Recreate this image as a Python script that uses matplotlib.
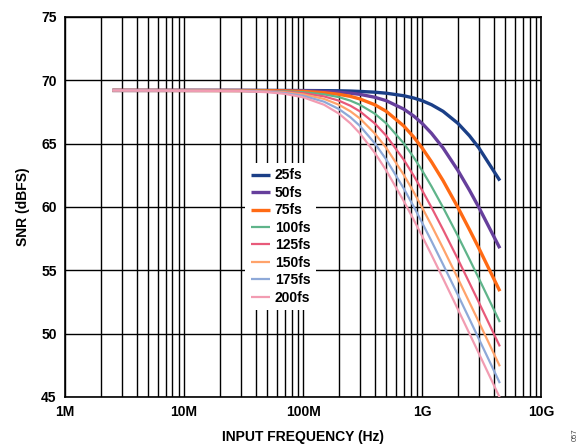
import numpy as np
import matplotlib
matplotlib.use("Agg")
import matplotlib.pyplot as plt
from matplotlib.ticker import LogLocator, FixedLocator, FixedFormatter, NullFormatter

plt.rcParams['font.family'] = ['Liberation Sans', 'DejaVu Sans']

# input frequency (Hz)
freq = [2.5e6, 30e6, 50e6, 70e6, 100e6, 150e6, 200e6, 250e6, 300e6, 400e6,
        500e6, 700e6, 850e6, 1e9, 1.2e9, 1.5e9, 2e9, 2.5e9, 3e9, 4.5e9]

snr_25fs = [69.2, 69.2, 69.2, 69.2, 69.19, 69.18, 69.17, 69.15, 69.12, 69.06,
            68.98, 68.78, 68.6, 68.39, 68.07, 67.55, 66.6, 65.62, 64.66, 62.08]
snr_50fs = [69.2, 69.2, 69.19, 69.18, 69.17, 69.12, 69.06, 68.98, 68.89, 68.66,
            68.39, 67.73, 67.18, 66.6, 65.81, 64.66, 62.88, 61.32, 59.96, 56.74]
snr_75fs = [69.2, 69.19, 69.18, 69.16, 69.12, 69.02, 68.89, 68.73, 68.53, 68.07,
            67.55, 66.4, 65.52, 64.66, 63.56, 62.08, 59.96, 58.21, 56.74, 53.35]
snr_100fs = [69.2, 69.19, 69.16, 69.13, 69.06, 68.89, 68.67, 68.39, 68.07, 67.37,
             66.6, 65.03, 63.92, 62.88, 61.62, 59.96, 57.7, 55.87, 54.35, 50.91]
snr_125fs = [69.2, 69.18, 69.14, 69.09, 68.98, 68.73, 68.39, 67.99, 67.55, 66.6,
             65.62, 63.74, 62.47, 61.32, 59.96, 58.21, 55.87, 54.0, 52.46, 48.99]
snr_150fs = [69.2, 69.17, 69.12, 69.05, 68.89, 68.53, 68.07, 67.55, 66.99, 65.81,
             64.66, 62.55, 61.18, 59.96, 58.54, 56.74, 54.35, 52.46, 50.91, 47.42]
snr_175fs = [69.2, 69.16, 69.09, 68.99, 68.78, 68.31, 67.73, 67.08, 66.4, 65.03,
             63.74, 61.47, 60.03, 58.76, 57.3, 55.46, 53.05, 51.15, 49.58, 46.09]
snr_200fs = [69.2, 69.15, 69.06, 68.93, 68.66, 68.07, 67.37, 66.6, 65.81, 64.28,
             62.88, 60.48, 58.99, 57.7, 56.21, 54.35, 51.91, 50.0, 48.43, 44.93]

labels = ['25fs', '50fs', '75fs', '100fs', '125fs', '150fs', '175fs', '200fs']
series = [snr_25fs, snr_50fs, snr_75fs, snr_100fs, snr_125fs, snr_150fs,
          snr_175fs, snr_200fs]
colors = ['#1b3f87', '#663f9c', '#ff6a14', '#5fb48a', '#e85a7a', '#ffa36b',
          '#8ea9d8', '#f29cb2']
widths = [2.4, 2.4, 2.4, 1.6, 1.6, 1.6, 1.6, 1.6]

fig = plt.figure(figsize=(5.8, 4.46), dpi=100)
ax = fig.add_axes([0.112, 0.110, 0.821, 0.852])

for y, lab, c, w in zip(series, labels, colors, widths):
    ax.plot(freq, y, color=c, lw=w, label=lab, solid_capstyle='butt',
            solid_joinstyle='round', zorder=3)

ax.set_xscale('log')
ax.set_xlim(1e6, 1e10)
ax.set_ylim(45, 75)
ax.set_yticks([45, 50, 55, 60, 65, 70, 75])
ax.xaxis.set_major_locator(FixedLocator([1e6, 1e7, 1e8, 1e9, 1e10]))
ax.xaxis.set_major_formatter(FixedFormatter(['1M', '10M', '100M', '1G', '10G']))
ax.xaxis.set_minor_locator(LogLocator(base=10, subs=np.arange(2, 10), numticks=20))
ax.xaxis.set_minor_formatter(NullFormatter())

ax.grid(True, which='both', axis='x', color='black', lw=1.0, zorder=1)
ax.grid(True, which='major', axis='y', color='black', lw=1.0, zorder=1)
ax.tick_params(which='both', length=0)
ax.tick_params(axis='x', pad=6)
ax.tick_params(axis='y', pad=6)
for t in ax.get_xticklabels() + ax.get_yticklabels():
    t.set_fontsize(10)
    t.set_fontweight('bold')
for s in ax.spines.values():
    s.set_linewidth(1.2)

ax.set_xlabel('INPUT FREQUENCY (Hz)', fontsize=10, fontweight='bold', labelpad=8)
ax.set_ylabel('SNR (dBFS)', fontsize=10, fontweight='bold', labelpad=8)

leg = ax.legend(loc='upper left', bbox_to_anchor=(0.378, 0.616), frameon=True,
                fancybox=False, edgecolor='none', facecolor='white', framealpha=1,
                prop={'weight': 'bold', 'size': 10}, handlelength=1.4,
                handletextpad=0.35, labelspacing=0.25, borderpad=0.4,
                borderaxespad=0)
leg.set_zorder(5)

fig.text(0.991, 0.012, '057', rotation=90, fontsize=5.5, color='#444444',
         ha='center', va='bottom')

fig.savefig('out.png', dpi=100)
